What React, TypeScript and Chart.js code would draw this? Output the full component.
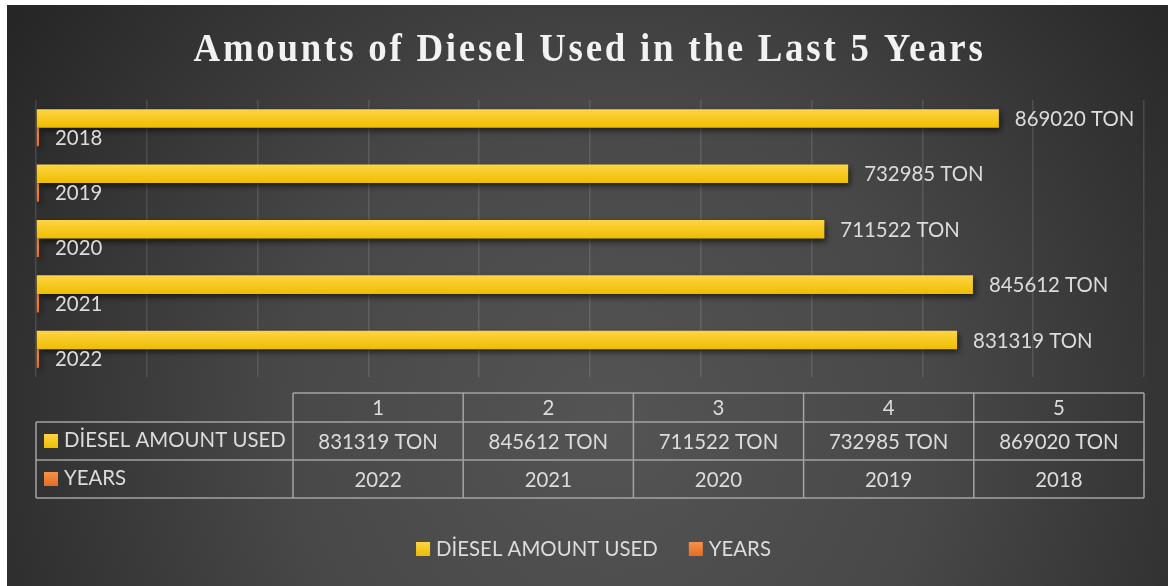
import React, { useEffect, useRef } from 'react';
import { Chart, registerables } from 'chart.js';

Chart.register(...registerables);

// ---- data ----
const TITLE = 'Amounts of Diesel Used in the Last 5 Years';
const categories = ['1', '2', '3', '4', '5'];
const dieselAmounts = [831319, 845612, 711522, 732985, 869020];
const years = [2022, 2021, 2020, 2019, 2018];
const seriesNames = ['DİESEL AMOUNT USED', 'YEARS'];
const UNIT = 'TON';
const X_MAX = 1000000;
const X_STEP = 100000;

// ---- styles ----
const W = 1161;
const H = 581;
const TEXT = '#dcdcdc';
const FONT = 'Lato, "Open Sans", sans-serif';
const FS = 20.4;
const LINE = '#a3a3a3';
const COLORS = [
  ['#ffd445', '#eebd00'],
  ['#f5924a', '#e46c25'],
];

const fmt = (di: number, v: number) => (di === 0 ? `${v} ${UNIT}` : `${v}`);

function barGradient(ctx: CanvasRenderingContext2D, top: number, bottom: number, c1: string, c2: string) {
  if (!isFinite(top) || !isFinite(bottom) || top === bottom) return c2;
  const g = ctx.createLinearGradient(0, top, 0, bottom);
  g.addColorStop(0, c1);
  g.addColorStop(1, c2);
  return g;
}

const bgPlugin = {
  id: 'bg',
  beforeDraw(chart: any) {
    const { ctx, width, height } = chart;
    ctx.save();
    const g = ctx.createRadialGradient(width * 0.52, height * 0.72, 0, width * 0.52, height * 0.72, width * 0.62);
    g.addColorStop(0, '#545454');
    g.addColorStop(0.45, '#484848');
    g.addColorStop(1, '#262626');
    ctx.fillStyle = g;
    ctx.fillRect(0, 0, width, height);
    ctx.restore();
  },
};

const titlePlugin = {
  id: 'customTitle',
  afterDraw(chart: any) {
    const { ctx, width } = chart;
    ctx.save();
    ctx.font = 'bold 40px "Liberation Serif", "Times New Roman", serif';
    (ctx as any).letterSpacing = '3px';
    ctx.fillStyle = '#f2f2f2';
    ctx.textBaseline = 'alphabetic';
    ctx.textAlign = 'left';
    const natural = ctx.measureText(TITLE).width;
    const target = 792;
    const sx = Math.min(1, target / natural);
    const cx = width / 2 + 2;
    ctx.translate(cx, 56);
    ctx.scale(sx, 1);
    ctx.fillText(TITLE, -natural / 2, 0);
    ctx.restore();
  },
};

const barStylePlugin = {
  id: 'barStyle',
  beforeDatasetsDraw(chart: any) {
    const ctx = chart.ctx;
    chart.data.datasets.forEach((_ds: any, di: number) => {
      const meta = chart.getDatasetMeta(di);
      meta.data.forEach((el: any) => {
        const h = el.height;
        if (el.options) {
          el.options = Object.assign({}, el.options, {
            backgroundColor: barGradient(ctx, el.y - h / 2, el.y + h / 2, COLORS[di][0], COLORS[di][1]),
          });
        }
      });
    });
    ctx.save();
    ctx.shadowColor = 'rgba(0,0,0,0.6)';
    ctx.shadowBlur = 6;
    ctx.shadowOffsetX = 2;
    ctx.shadowOffsetY = 3;
  },
  afterDatasetsDraw(chart: any) {
    chart.ctx.restore();
  },
};

const labelPlugin = {
  id: 'valueLabels',
  afterDatasetsDraw(chart: any) {
    const ctx = chart.ctx;
    ctx.save();
    ctx.shadowColor = 'transparent';
    ctx.font = `${FS}px ${FONT}`;
    ctx.fillStyle = TEXT;
    ctx.textAlign = 'left';
    ctx.textBaseline = 'middle';
    chart.data.datasets.forEach((ds: any, di: number) => {
      const meta = chart.getDatasetMeta(di);
      meta.data.forEach((el: any, i: number) => {
        ctx.fillText(fmt(di, ds.data[i]), el.x + 16, el.y + 1);
      });
    });
    ctx.restore();
  },
};

const tablePlugin = {
  id: 'dataTable',
  afterDraw(chart: any) {
    const { ctx, chartArea } = chart;
    const left = chartArea.left;
    const right = chartArea.right;
    const headW = 257;
    const top = chartArea.bottom + 16;
    const headH = 29;
    const rowH = 38;
    const colW = (right - left - headW) / categories.length;
    const x0 = left + headW;
    const rowsTop = top + headH;
    const bottom = rowsTop + rowH * 2;
    ctx.save();
    ctx.strokeStyle = LINE;
    ctx.lineWidth = 1.5;
    ctx.beginPath();
    ctx.moveTo(x0, top);
    ctx.lineTo(right, top);
    ctx.moveTo(left, rowsTop);
    ctx.lineTo(right, rowsTop);
    ctx.moveTo(left, rowsTop + rowH);
    ctx.lineTo(right, rowsTop + rowH);
    ctx.moveTo(left, bottom);
    ctx.lineTo(right, bottom);
    ctx.moveTo(left, rowsTop);
    ctx.lineTo(left, bottom);
    for (let i = 0; i <= categories.length; i++) {
      const x = x0 + colW * i;
      ctx.moveTo(x, top);
      ctx.lineTo(x, bottom);
    }
    ctx.stroke();

    ctx.font = `${FS}px ${FONT}`;
    ctx.fillStyle = TEXT;
    ctx.textBaseline = 'middle';
    ctx.textAlign = 'center';
    categories.forEach((c, i) => {
      const cx = x0 + colW * (i + 0.5);
      ctx.fillText(c, cx, top + headH / 2 + 1);
      ctx.fillText(fmt(0, dieselAmounts[i]), cx, rowsTop + rowH / 2 + 1);
      ctx.fillText(fmt(1, years[i]), cx, rowsTop + rowH * 1.5 + 1);
    });
    ctx.textAlign = 'left';
    seriesNames.forEach((name, di) => {
      const cy = rowsTop + rowH * (di + 0.5);
      ctx.fillStyle = barGradient(ctx, cy - 7, cy + 7, COLORS[di][0], COLORS[di][1]);
      ctx.fillRect(left + 8, cy - 7, 14, 14);
      ctx.fillStyle = TEXT;
      ctx.fillText(name, left + 28, cy - 1);
    });
    ctx.restore();
  },
};

const legendPlugin = {
  id: 'customLegend',
  afterDraw(chart: any) {
    const { ctx, width } = chart;
    ctx.save();
    ctx.font = `${FS}px ${FONT}`;
    ctx.textBaseline = 'middle';
    ctx.textAlign = 'left';
    const box = 14;
    const gap = 6;
    const itemGap = 31;
    const widths = seriesNames.map((n) => ctx.measureText(n).width);
    const total = widths.reduce((a, w) => a + box + gap + w, 0) + itemGap * (seriesNames.length - 1);
    let x = width / 2 + 6 - total / 2;
    const cy = 544;
    seriesNames.forEach((name, di) => {
      ctx.fillStyle = barGradient(ctx, cy - 7, cy + 7, COLORS[di][0], COLORS[di][1]);
      ctx.fillRect(x, cy - 7, box, box);
      x += box + gap;
      ctx.fillStyle = TEXT;
      ctx.fillText(name, x, cy);
      x += widths[di] + itemGap;
    });
    ctx.restore();
  },
};

export default function App() {
  const ref = useRef<HTMLCanvasElement | null>(null);

  useEffect(() => {
    if (!ref.current) return;
    const chart = new Chart(ref.current, {
      type: 'bar',
      data: {
        labels: categories,
        datasets: [
          {
            label: seriesNames[0],
            data: dieselAmounts,
            backgroundColor: () => COLORS[0][1],
            borderWidth: 0,
          },
          {
            label: seriesNames[1],
            data: years,
            backgroundColor: () => COLORS[1][1],
            borderWidth: 0,
            minBarLength: 3,
          },
        ],
      },
      options: {
        indexAxis: 'y',
        responsive: false,
        animation: false,
        events: [],
        layout: { padding: { left: 29, right: 24, top: 95, bottom: 209 } },
        datasets: {
          bar: { categoryPercentage: 0.67, barPercentage: 1 },
        },
        scales: {
          x: {
            min: 0,
            max: X_MAX,
            ticks: { display: false, stepSize: X_STEP },
            grid: { color: 'rgba(255,255,255,0.12)', lineWidth: 1.5, drawTicks: false },
            border: { display: false },
          },
          y: {
            reverse: true,
            ticks: { display: false },
            grid: { display: false, drawTicks: false },
            border: { display: false },
          },
        },
        plugins: {
          legend: { display: false },
          title: { display: false },
          tooltip: { enabled: false },
        },
      },
      plugins: [bgPlugin, barStylePlugin, labelPlugin, tablePlugin, legendPlugin, titlePlugin],
    } as any);
    return () => chart.destroy();
  }, []);

  return (
    <div style={{ position: 'absolute', left: 7, top: 5, width: W, height: H }}>
      <canvas ref={ref} width={W} height={H} style={{ display: 'block' }} />
    </div>
  );
}
